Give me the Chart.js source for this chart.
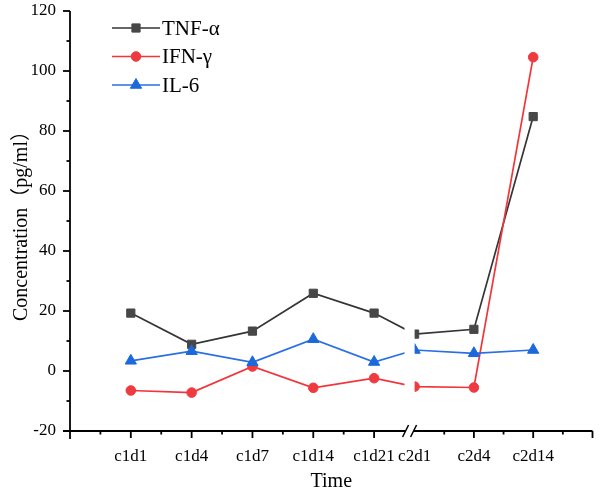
<!DOCTYPE html>
<html>
<head>
<meta charset="utf-8">
<script src="https://cdn.jsdelivr.net/npm/chart.js@4/dist/chart.umd.min.js"></script>
<style>
  html, body { margin: 0; padding: 0; background: #fff; }
  #wrap { width: 600px; height: 496px; position: relative; }
</style>
</head>
<body>
<div id="wrap"><canvas id="c"></canvas></div>
<script>
// ---- data ----
const categories = ['c1d1', 'c1d4', 'c1d7', 'c1d14', 'c1d21', 'c2d1', 'c2d4', 'c2d14'];
const seriesNames = ['TNF-\u03b1', 'IFN-\u03b3', 'IL-6'];
const tnfAlpha = [19.3, 8.9, 13.3, 25.9, 19.3, 12.3, 13.9, 84.8];
const ifnGamma = [-6.5, -7.2, 1.5, -5.6, -2.4, -5.2, -5.5, 104.6];
const il6 = [3.4, 6.6, 2.9, 10.6, 3.0, 7.0, 5.9, 7.0];
const yTickMin = -20, yTickMax = 120, yTickStep = 20;
const cycle1Count = 5; // categories before the axis break

// ---- layout of the broken category axis (scale units) ----
const breakGap = 0.666, seg2Step = 0.975;
const xPos = categories.map((c, i) => i < cycle1Count ? i + 1 : cycle1Count + breakGap + (i - cycle1Count) * seg2Step);
const xMax = xPos[xPos.length - 1] + seg2Step;
const breakFrom = cycle1Count + 0.5, breakTo = xPos[cycle1Count];

const colors = {
  tnf: { line: '#353535', point: '#474747' },
  ifn: { line: '#f2353a', point: '#ef3a40' },
  il6: { line: '#2a6fe3', point: '#1c69dc' }
};
const serif = '"Liberation Serif", "Times New Roman", "Noto Sans CJK SC", serif';

function pts(vals) { return vals.map((v, i) => ({ x: xPos[i], y: v })); }

const datasets = [
  { label: seriesNames[0], data: pts(tnfAlpha), borderColor: colors.tnf.line, backgroundColor: colors.tnf.point,
    pointBackgroundColor: colors.tnf.point, pointBorderColor: colors.tnf.point, pointStyle: 'rect', pointRadius: 5.8, order: 2 },
  { label: seriesNames[1], data: pts(ifnGamma), borderColor: colors.ifn.line, backgroundColor: colors.ifn.point,
    pointBackgroundColor: colors.ifn.point, pointBorderColor: colors.ifn.point, pointStyle: 'circle', pointRadius: 4.8, order: 1 },
  { label: seriesNames[2], data: pts(il6), borderColor: colors.il6.line, backgroundColor: colors.il6.point,
    pointBackgroundColor: colors.il6.point, pointBorderColor: colors.il6.point, pointStyle: 'triangle', pointRadius: 6.5, order: 0 }
].map(d => Object.assign({ borderWidth: 1.7, pointBorderWidth: 1, tension: 0, fill: false, showLine: true }, d));

const axesPlugin = {
  id: 'axesPlugin',
  afterDatasetsDraw(chart) {
    const { ctx, chartArea: a, scales: { x } } = chart;
    const x1 = x.getPixelForValue(breakFrom), x2 = x.getPixelForValue(breakTo);
    ctx.save();
    ctx.fillStyle = '#fff';
    ctx.fillRect(x1, a.top - 12, x2 - x1, a.bottom - a.top + 12);
    ctx.restore();
  },
  afterDraw(chart) {
    const { ctx, chartArea: a, scales: { x, y } } = chart;
    ctx.save();
    ctx.strokeStyle = '#000';
    ctx.lineWidth = 1.8;
    ctx.lineCap = 'butt';
    // y axis line
    ctx.beginPath(); ctx.moveTo(a.left, a.top); ctx.lineTo(a.left, a.bottom + 8); ctx.stroke();
    // y ticks
    for (let v = yTickMin; v <= yTickMax; v += yTickStep / 2) {
      const py = y.getPixelForValue(v);
      const major = ((v - yTickMin) % yTickStep) === 0;
      ctx.beginPath(); ctx.moveTo(a.left, py); ctx.lineTo(a.left - (major ? 7 : 3.5), py); ctx.stroke();
    }
    // x axis line with break
    const bx = (x.getPixelForValue(breakFrom) + x.getPixelForValue(breakTo)) / 2;
    const ay = a.bottom;
    ctx.beginPath(); ctx.moveTo(a.left - 7, ay); ctx.lineTo(bx - 4, ay); ctx.stroke();
    ctx.beginPath(); ctx.moveTo(bx + 4, ay); ctx.lineTo(a.right, ay); ctx.stroke();
    ctx.lineWidth = 1.5;
    [-4, 4].forEach(d => {
      ctx.beginPath(); ctx.moveTo(bx + d - 3, ay + 6); ctx.lineTo(bx + d + 3, ay - 6); ctx.stroke();
    });
    ctx.lineWidth = 1.8;
    // x ticks: majors at categories and axis end, minors between
    const majors = xPos.filter((v, i) => i !== cycle1Count).concat([xMax]);
    const minors = [];
    for (let i = 0; i < cycle1Count; i++) minors.push(xPos[i] - 0.5);
    for (let i = cycle1Count; i < xPos.length; i++) minors.push(xPos[i] + seg2Step / 2);
    majors.forEach(v => { const px = x.getPixelForValue(v); ctx.beginPath(); ctx.moveTo(px, ay); ctx.lineTo(px, ay + 7); ctx.stroke(); });
    minors.forEach(v => { const px = x.getPixelForValue(v); ctx.beginPath(); ctx.moveTo(px, ay); ctx.lineTo(px, ay + 3.5); ctx.stroke(); });
    // legend
    const lx0 = 112, lx1 = 160, ly0 = 28, ldy = 28.5;
    chart.data.datasets.forEach((ds, i) => {
      const ly = ly0 + i * ldy;
      ctx.strokeStyle = ds.borderColor; ctx.lineWidth = ds.borderWidth;
      ctx.beginPath(); ctx.moveTo(lx0, ly); ctx.lineTo(lx1, ly); ctx.stroke();
      ctx.fillStyle = ds.pointBackgroundColor; ctx.strokeStyle = ds.pointBorderColor; ctx.lineWidth = 1;
      Chart.helpers.drawPoint(ctx, { pointStyle: ds.pointStyle, radius: ds.pointRadius, rotation: 0, borderWidth: 1 }, (lx0 + lx1) / 2, ly);
      ctx.fillStyle = '#000';
      ctx.font = '21px ' + serif;
      ctx.textBaseline = 'middle';
      ctx.textAlign = 'left';
      ctx.fillText(ds.label, lx1 + 2, ly + 1);
    });
    ctx.restore();
  }
};

new Chart(document.getElementById('c'), {
  type: 'line',
  data: { datasets },
  options: {
    responsive: true,
    maintainAspectRatio: false,
    animation: false,
    layout: { padding: { top: 11, right: 5, left: 0, bottom: 0 } },
    plugins: { legend: { display: false }, tooltip: { enabled: false } },
    scales: {
      x: {
        type: 'linear', min: 0, max: xMax,
        afterBuildTicks: s => { s.ticks = xPos.map(v => ({ value: v })); },
        afterFit: s => { s.height = 65; s.paddingLeft = 0; s.paddingRight = 0; },
        grid: { display: false, drawTicks: false },
        border: { display: false },
        ticks: { autoSkip: false, maxRotation: 0, padding: 15, color: '#000',
          font: { family: serif, size: 17 },
          callback: (v, i) => categories[i] },
        title: { display: true, text: 'Time', color: '#000', font: { family: serif, size: 20 }, padding: { top: 0, bottom: 2 } }
      },
      y: {
        min: yTickMin, max: yTickMax,
        afterFit: s => { s.width = 70; s.paddingTop = 0; s.paddingBottom = 0; },
        grid: { display: false, drawTicks: false },
        border: { display: false },
        ticks: { stepSize: yTickStep, padding: 14, color: '#000', font: { family: serif, size: 17 } },
        title: { display: true, text: 'Concentration\uff08pg/ml\uff09', color: '#000', font: { family: serif, size: 20 }, padding: { top: 10, bottom: 0 } }
      }
    }
  },
  plugins: [axesPlugin]
});
</script>
</body>
</html>
